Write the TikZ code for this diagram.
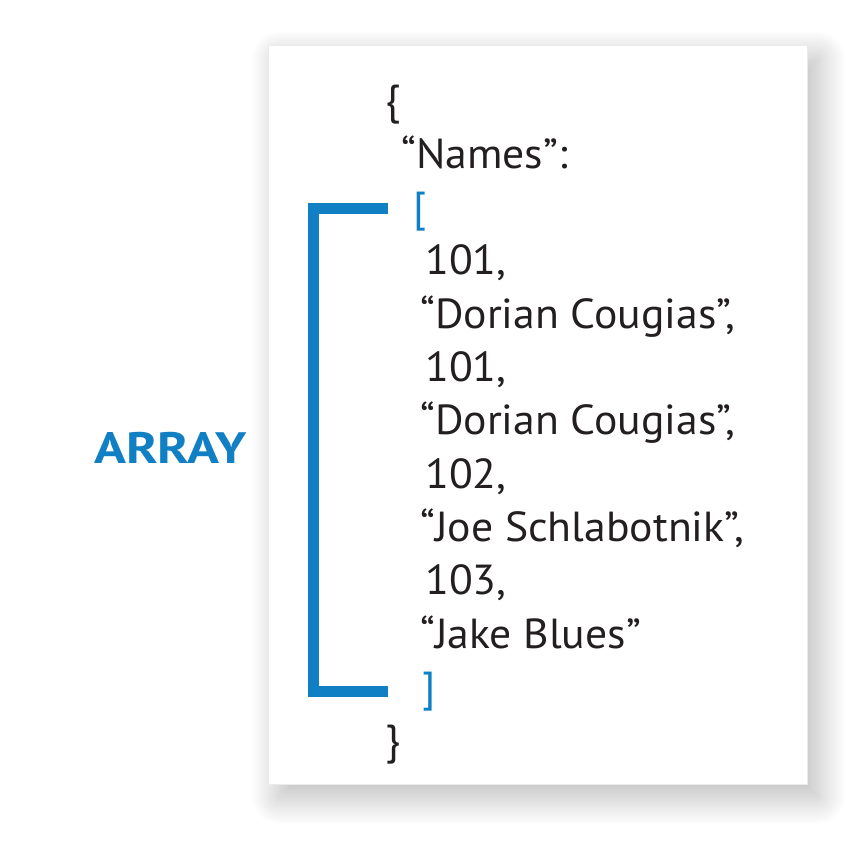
\documentclass[tikz,border=0pt]{standalone}
\usepackage{fontspec}
\setmainfont[FakeStretch=1.04]{PT Sans}
\newfontfamily\labelfont[FakeStretch=1.2]{PT Sans}
\usepackage{xcolor}
\usepackage{tikz}
\usetikzlibrary{calc, positioning, shadows.blur}
\definecolor{arrayblue}{RGB}{17,127,195}
\definecolor{codeblack}{RGB}{35,31,32}
\tikzset{
    cardnode/.style = {draw=black!8, fill=white, rectangle, inner sep=0pt,
      blur shadow={shadow xshift=11pt, shadow yshift=-13pt, shadow blur radius=28pt,
        shadow blur steps=40, shadow opacity=28}},
    codenode/.style = {draw=none, fill=none, rectangle, inner sep=0pt, anchor=base west,
      text=codeblack, font=\fontsize{42}{52}\selectfont},
    bluenode/.style = {codenode, text=arrayblue},
    labelnode/.style = {draw=none, fill=none, rectangle, inner sep=0pt, anchor=base west,
      text=arrayblue, font=\labelfont\fontsize{44}{52}\selectfont\bfseries},
    bracket/.style = {draw=arrayblue, line width=11pt, line cap=butt, line join=miter}
}

\begin{document}
\begin{tikzpicture}[x=1pt, y=-1pt]
\useasboundingbox (0,0) rectangle (847,864);

\node [cardnode, name=card, minimum width=539pt, minimum height=739pt] at (537.5,414.5) {};

% the JSON text, one line per node
\node [codenode, name=Open] at (385,114.7) {\{};
\node [codenode, name=Names] at (401,168) {“Names”:};
\node [bluenode, name=ListOpen] at (413,221.3) {[};
\node [codenode, name=IdA] at (425,274.6) {101,};
\node [codenode, name=NameA] at (420,328) {“Dorian Cougias”,};
\node [codenode, name=IdB] at (425,381.3) {101,};
\node [codenode, name=NameB] at (420,434.6) {“Dorian Cougias”,};
\node [codenode, name=IdC] at (425,488) {102,};
\node [codenode, name=NameC] at (420,541.3) {“Joe Schlabotnik”,};
\node [codenode, name=IdD] at (425,594.6) {103,};
\node [codenode, name=NameD] at (420,648) {“Jake Blues”};
\node [bluenode, name=ListClose] at (422,701.3) {]};
\node [codenode, name=Close] at (385,754.6) {\}};

% the big bracket and its label
\draw [bracket] (388,208.5) -- (313.5,208.5) -- (313.5,691.5) -- (388,691.5);
\node [labelnode, name=Array] at (94,463) {ARRAY};

\end{tikzpicture}
\end{document}
